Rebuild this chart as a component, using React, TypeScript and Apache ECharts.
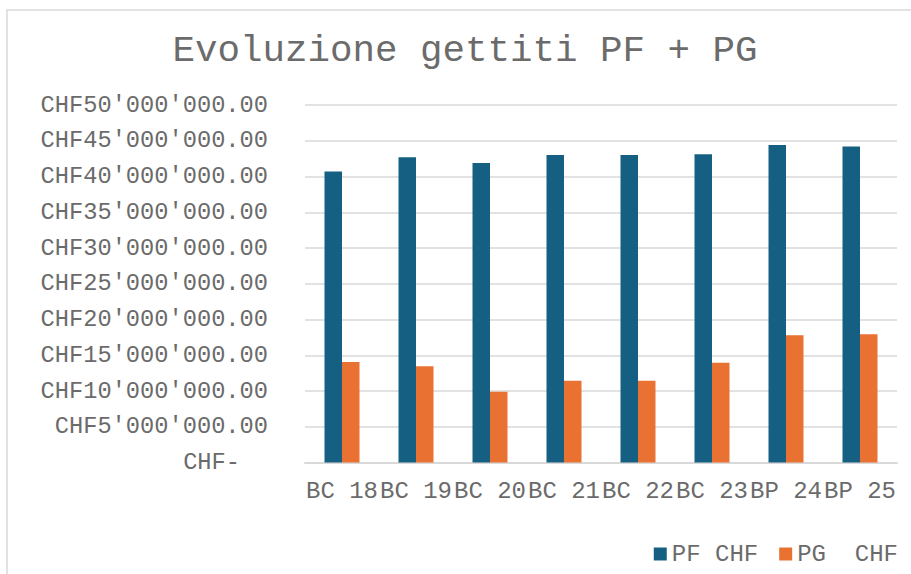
import React, { useEffect, useRef } from "react";
import * as echarts from "echarts";

const categories = ["BC 18", "BC 19", "BC 20", "BC 21", "BC 22", "BC 23", "BP 24", "BP 25"];
const pfValues = [40700000, 42700000, 41900000, 43000000, 43000000, 43100000, 44400000, 44200000];
const pgValues = [14050000, 13450000, 9900000, 11450000, 11450000, 13950000, 17800000, 17950000];
const seriesNames = ["PF CHF", "PG  CHF"];
const titleText = "Evoluzione gettiti PF + PG";

const FONT = "'Liberation Mono', 'Courier New', monospace";
const TEXT = "#6b6b6b";

function fmtCHF(v: number): string {
  if (v === 0) return "{z|CHF-}";
  const s = Math.round(v).toString().replace(/\B(?=(\d{3})+(?!\d))/g, "'");
  return "CHF" + s + ".00";
}

export default function App() {
  const ref = useRef<HTMLDivElement>(null);
  useEffect(() => {
    if (!ref.current) return;
    const chart = echarts.init(ref.current, undefined, { renderer: "svg" });
    chart.setOption({
      animation: false,
      backgroundColor: "#ffffff",
      title: {
        text: titleText,
        left: 460,
        textAlign: "center",
        top: 27,
        textStyle: { fontFamily: FONT, fontSize: 37.5, fontWeight: "normal", color: TEXT },
      },
      graphic: [
        {
          type: "rect",
          shape: { x: 7, y: 10, width: 1200, height: 1200 },
          style: { fill: "none", stroke: "#d9d9d9", lineWidth: 1.5 },
          silent: true,
        },
      ],
      legend: {
        right: 8,
        top: 537,
        itemWidth: 13,
        itemHeight: 13,
        itemGap: 21,
        icon: "rect",
        textStyle: { fontFamily: FONT, fontSize: 24, color: TEXT },
        data: seriesNames,
      },
      grid: { left: 305, right: 14, top: 105, bottom: 111.5, containLabel: false },
      xAxis: {
        type: "category",
        data: categories,
        axisTick: { show: false },
        axisLine: { lineStyle: { color: "#d9d9d9", width: 2 } },
        axisLabel: {
          interval: 0,
          margin: 17,
          fontFamily: FONT,
          fontSize: 24,
          color: TEXT,
        },
      },
      yAxis: {
        type: "value",
        min: 0,
        max: 50000000,
        interval: 5000000,
        axisLine: { show: false },
        axisTick: { show: false },
        splitLine: { lineStyle: { color: "#d9d9d9", width: 1.5 } },
        axisLabel: {
          margin: 37,
          fontFamily: FONT,
          fontSize: 23.7,
          color: TEXT,
          formatter: fmtCHF,
          rich: { z: { fontFamily: FONT, fontSize: 23.7, color: TEXT, padding: [0, 28, 0, 0] } },
        },
      },
      series: [
        {
          name: seriesNames[0],
          type: "bar",
          data: pfValues,
          barWidth: 17.5,
          barGap: "0%",
          itemStyle: { color: "#156082" },
        },
        {
          name: seriesNames[1],
          type: "bar",
          data: pgValues,
          barWidth: 17.5,
          barGap: "0%",
          itemStyle: { color: "#E97132" },
        },
      ],
    });
    return () => chart.dispose();
  }, []);
  return (
    <div
      ref={ref}
      style={{ position: "absolute", left: 0, top: 0, width: 911, height: 574 }}
    />
  );
}
